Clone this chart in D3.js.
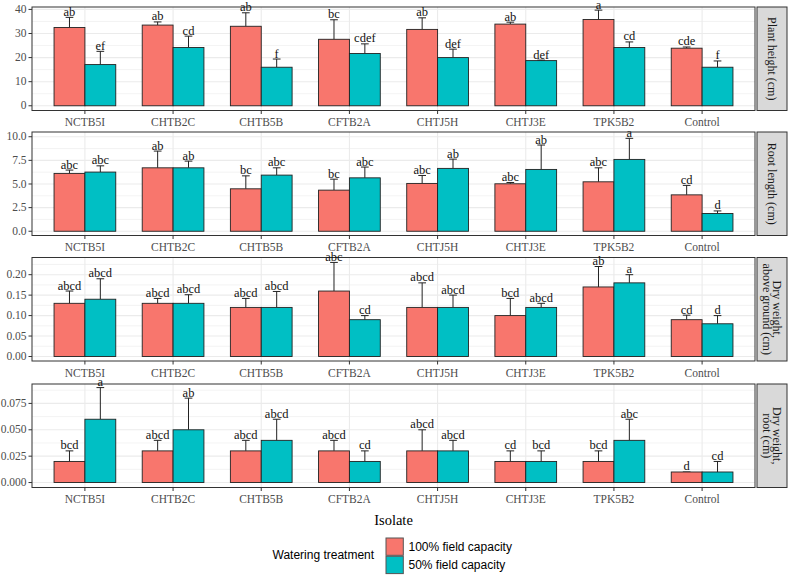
<!DOCTYPE html>
<html>
<head>
<meta charset="utf-8">
<script src="https://cdn.jsdelivr.net/npm/d3@7"></script>
<style>
  body { margin: 0; background: #fff; }
  svg text { font-family: "Liberation Serif", "Times New Roman", serif; }
</style>
</head>
<body>
<svg id="chart" width="789" height="581"></svg>
<script>
// Isolates and treatments
var categories = ['NCTB5I', 'CHTB2C', 'CHTB5B', 'CFTB2A', 'CHTJ5H', 'CHTJ3E', 'TPK5B2', 'Control'];
var treatments = ['100% field capacity', '50% field capacity'];
var treatmentColors = ['#F8766D', '#00BFC4'];

// Plant height (cm)
var heightMean100 = [32.5, 33.5, 33.0, 27.6, 31.7, 33.9, 35.8, 23.9];
var heightSe100   = [4.2, 1.3, 5.6, 8.1, 4.8, 0.8, 3.9, 0.5];
var heightMean50  = [17.1, 24.2, 16.0, 21.7, 20.0, 18.75, 24.2, 16.0];
var heightSe50    = [5.5, 4.7, 3.4, 4.0, 3.5, 0.2, 2.3, 2.6];
var heightLetters100 = ['ab', 'ab', 'ab', 'bc', 'ab', 'ab', 'a', 'cde'];
var heightLetters50  = ['ef', 'cd', 'f', 'cdef', 'def', 'def', 'cd', 'f'];
var heightTicks = [0, 10, 20, 30, 40];

// Root length (cm)
var rootMean100 = [6.12, 6.71, 4.49, 4.35, 5.06, 5.02, 5.23, 3.85];
var rootSe100   = [0.35, 1.77, 1.37, 1.16, 0.84, 0.14, 1.48, 1.0];
var rootMean50  = [6.26, 6.71, 5.94, 5.65, 6.65, 6.54, 7.6, 1.88];
var rootSe50    = [0.66, 0.71, 0.77, 1.14, 0.98, 2.58, 2.23, 0.27];
var rootLetters100 = ['abc', 'ab', 'bc', 'bc', 'abc', 'abc', 'abc', 'cd'];
var rootLetters50  = ['abc', 'ab', 'abc', 'abc', 'ab', 'ab', 'a', 'd'];
var rootTicks = [0, 2.5, 5, 7.5, 10];

// Dry weight, above ground
var dryAboveMean100 = [0.13, 0.13, 0.12, 0.16, 0.12, 0.10, 0.17, 0.09];
var dryAboveSe100   = [0.03, 0.012, 0.022, 0.07, 0.06, 0.042, 0.05, 0.011];
var dryAboveMean50  = [0.14, 0.13, 0.12, 0.09, 0.12, 0.12, 0.18, 0.08];
var dryAboveSe50    = [0.05, 0.021, 0.039, 0.01, 0.03, 0.01, 0.02, 0.02];
var dryAboveLetters100 = ['abcd', 'abcd', 'abcd', 'abc', 'abcd', 'bcd', 'ab', 'cd'];
var dryAboveLetters50  = ['abcd', 'abcd', 'abcd', 'cd', 'abcd', 'abcd', 'a', 'd'];
var dryAboveTicks = [0, 0.05, 0.10, 0.15, 0.20];

// Dry weight, root
var dryRootMean100 = [0.02, 0.03, 0.03, 0.03, 0.03, 0.02, 0.02, 0.01];
var dryRootSe100   = [0.01, 0.01, 0.01, 0.01, 0.02, 0.01, 0.01, 0.0];
var dryRootMean50  = [0.06, 0.05, 0.04, 0.02, 0.03, 0.02, 0.04, 0.01];
var dryRootSe50    = [0.03, 0.03, 0.02, 0.01, 0.01, 0.01, 0.02, 0.01];
var dryRootLetters100 = ['bcd', 'abcd', 'abcd', 'abcd', 'abcd', 'cd', 'bcd', 'd'];
var dryRootLetters50  = ['a', 'ab', 'abcd', 'cd', 'abcd', 'bcd', 'abc', 'cd'];
var dryRootTicks = [0, 0.025, 0.05, 0.075];

var panels = [
  { title: ['Plant height (cm)'], means: [heightMean100, heightMean50], ses: [heightSe100, heightSe50],
    letters: [heightLetters100, heightLetters50], ticks: heightTicks, fmt: d3.format('d'), domain: [-1.96, 41.0] },
  { title: ['Root length (cm)'], means: [rootMean100, rootMean50], ses: [rootSe100, rootSe50],
    letters: [rootLetters100, rootLetters50], ticks: rootTicks, fmt: d3.format('.1f'), domain: [-0.45, 10.5] },
  { title: ['Dry weight,', 'above ground (cm)'], means: [dryAboveMean100, dryAboveMean50], ses: [dryAboveSe100, dryAboveSe50],
    letters: [dryAboveLetters100, dryAboveLetters50], ticks: dryAboveTicks, fmt: d3.format('.2f'), domain: [-0.011, 0.242] },
  { title: ['Dry weight,', 'root (cm)'], means: [dryRootMean100, dryRootMean50], ses: [dryRootSe100, dryRootSe50],
    letters: [dryRootLetters100, dryRootLetters50], ticks: dryRootTicks, fmt: d3.format('.3f'), domain: [-0.0047, 0.0934] }
];

var svg = d3.select('#chart');
svg.append('rect').attr('width', 789).attr('height', 581).attr('fill', '#fff');

var left = 32, right = 755,
    panelTops = [7, 132, 257.5, 384],
    panelHeight = 103.5,
    stripX = 757, stripW = 30;

// ggplot-like discrete axis: groups 0.7 wide, 0.6 expansion on each side
var x0 = d3.scaleBand().domain(categories).range([left, right]).paddingInner(0.3).paddingOuter(0.25);
var x1 = d3.scaleBand().domain(treatments).range([0, x0.bandwidth()]);

panels.forEach(function(p, pi) {
  var top = panelTops[pi],
      bottom = top + panelHeight,
      y = d3.scaleLinear().domain(p.domain).range([bottom, top]),
      g = svg.append('g');

  // minor and major grid lines
  var step = p.ticks[1] - p.ticks[0],
      minor = [];
  for (var t = p.ticks[0] - step / 2; t <= p.domain[1]; t += step) {
    if (t >= p.domain[0]) minor.push(t);
  }
  g.selectAll('.minor').data(minor).enter().append('line')
    .attr('x1', left).attr('x2', right)
    .attr('y1', function(d) { return y(d); }).attr('y2', function(d) { return y(d); })
    .attr('stroke', '#ebebeb').attr('stroke-width', 0.6);
  g.selectAll('.major').data(p.ticks).enter().append('line')
    .attr('x1', left).attr('x2', right)
    .attr('y1', function(d) { return y(d); }).attr('y2', function(d) { return y(d); })
    .attr('stroke', '#ebebeb').attr('stroke-width', 1.1);
  g.selectAll('.vmajor').data(categories).enter().append('line')
    .attr('x1', function(d) { return x0(d) + x0.bandwidth() / 2; })
    .attr('x2', function(d) { return x0(d) + x0.bandwidth() / 2; })
    .attr('y1', top).attr('y2', bottom)
    .attr('stroke', '#ebebeb').attr('stroke-width', 1.1);

  // flatten to one record per bar
  var bars = [];
  categories.forEach(function(c, ci) {
    treatments.forEach(function(tr, ti) {
      bars.push({ cat: c, tr: tr, ti: ti, mean: p.means[ti][ci], se: p.ses[ti][ci], letter: p.letters[ti][ci] });
    });
  });
  var cx = function(d) { return x0(d.cat) + x1(d.tr) + x1.bandwidth() / 2; },
      capW = x1.bandwidth() * 0.25;

  // error bars (upper half only, the rest hides behind the bar)
  g.selectAll('.err').data(bars).enter().append('line')
    .attr('x1', cx).attr('x2', cx)
    .attr('y1', function(d) { return y(d.mean); })
    .attr('y2', function(d) { return y(d.mean + d.se); })
    .attr('stroke', '#222').attr('stroke-width', 1);
  g.selectAll('.cap').data(bars).enter().append('line')
    .attr('x1', function(d) { return cx(d) - capW / 2; })
    .attr('x2', function(d) { return cx(d) + capW / 2; })
    .attr('y1', function(d) { return y(d.mean + d.se); })
    .attr('y2', function(d) { return y(d.mean + d.se); })
    .attr('stroke', '#222').attr('stroke-width', 1);

  g.selectAll('.bar').data(bars).enter().append('rect')
    .attr('x', function(d) { return x0(d.cat) + x1(d.tr); })
    .attr('width', x1.bandwidth())
    .attr('y', function(d) { return y(d.mean); })
    .attr('height', function(d) { return y(0) - y(d.mean); })
    .attr('fill', function(d) { return treatmentColors[d.ti]; })
    .attr('stroke', '#222').attr('stroke-width', 0.9);

  // panel border
  g.append('rect').attr('x', left).attr('y', top)
    .attr('width', right - left).attr('height', panelHeight)
    .attr('fill', 'none').attr('stroke', '#333').attr('stroke-width', 1);

  // significance letters
  g.selectAll('.letter').data(bars).enter().append('text')
    .attr('x', cx)
    .attr('y', function(d) { return y(d.mean + d.se) - 1.5; })
    .attr('text-anchor', 'middle')
    .attr('font-size', '12.5px').attr('fill', '#111')
    .text(function(d) { return d.letter; });

  // y axis
  var yt = g.selectAll('.ytick').data(p.ticks).enter().append('g');
  yt.append('line').attr('x1', left - 3.5).attr('x2', left)
    .attr('y1', function(d) { return y(d); }).attr('y2', function(d) { return y(d); })
    .attr('stroke', '#333');
  yt.append('text').attr('x', left - 5.5).attr('y', function(d) { return y(d); })
    .attr('dy', '0.32em').attr('text-anchor', 'end')
    .attr('font-size', '11.5px').attr('fill', '#4d4d4d')
    .text(function(d) { return p.fmt(d); });

  // x axis
  var xt = g.selectAll('.xtick').data(categories).enter().append('g');
  xt.append('line')
    .attr('x1', function(d) { return x0(d) + x0.bandwidth() / 2; })
    .attr('x2', function(d) { return x0(d) + x0.bandwidth() / 2; })
    .attr('y1', bottom).attr('y2', bottom + 3.5).attr('stroke', '#333');
  xt.append('text')
    .attr('x', function(d) { return x0(d) + x0.bandwidth() / 2; })
    .attr('y', bottom + 15.5)
    .attr('text-anchor', 'middle')
    .attr('font-size', '11.5px').attr('fill', '#4d4d4d')
    .text(function(d) { return d; });

  // facet strip on the right
  g.append('rect').attr('x', stripX).attr('y', top)
    .attr('width', stripW).attr('height', panelHeight)
    .attr('fill', '#d9d9d9').attr('stroke', '#333').attr('stroke-width', 1);
  var midY = top + panelHeight / 2,
      midX = stripX + stripW / 2,
      lineGap = 10.5;
  p.title.forEach(function(line, li) {
    var off = (p.title.length - 1) * lineGap / 2 - li * lineGap;
    g.append('text')
      .attr('transform', 'translate(' + (midX + off) + ',' + midY + ') rotate(90)')
      .attr('text-anchor', 'middle').attr('dy', '0.35em')
      .attr('font-size', '12px').attr('fill', '#1a1a1a')
      .text(line);
  });
});

// axis title
svg.append('text').attr('x', (left + right) / 2).attr('y', 525)
  .attr('text-anchor', 'middle').attr('font-size', '14.5px').attr('fill', '#000')
  .text('Isolate');

// legend
var legend = svg.append('g').style('font-family', '"Liberation Sans", Arial, sans-serif');
legend.append('text').attr('x', 272.5).attr('y', 555).attr('dy', '0.35em')
  .attr('font-size', '12px').attr('fill', '#000')
  .style('font-family', '"Liberation Sans", Arial, sans-serif')
  .text('Watering treatment');
treatments.forEach(function(tr, i) {
  var ky = 538 + i * 18.3;
  legend.append('rect').attr('x', 386).attr('y', ky).attr('width', 17.3).attr('height', 17.3)
    .attr('fill', treatmentColors[i]).attr('stroke', '#555').attr('stroke-width', 1);
  legend.append('text').attr('x', 408.5).attr('y', ky + 8.7).attr('dy', '0.35em')
    .attr('font-size', '12px').attr('fill', '#000')
    .style('font-family', '"Liberation Sans", Arial, sans-serif')
    .text(tr);
});
</script>
</body>
</html>
